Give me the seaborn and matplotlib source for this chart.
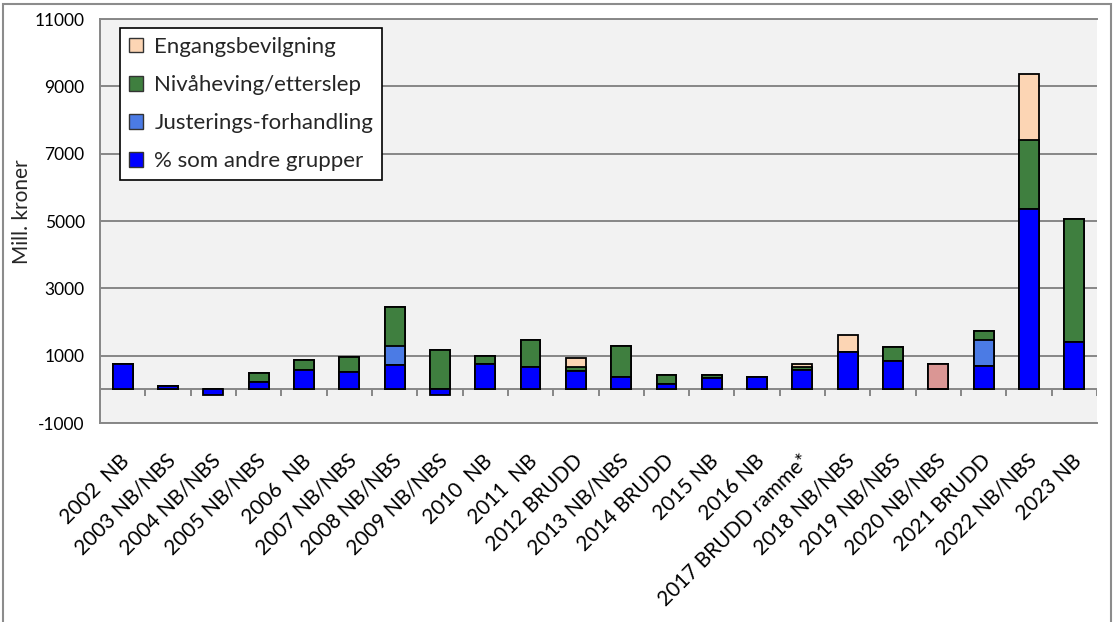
import numpy as np
import pandas as pd
import matplotlib
matplotlib.use("Agg")
import matplotlib.pyplot as plt
from matplotlib.patches import Patch, Rectangle
from matplotlib.transforms import ScaledTranslation
import seaborn as sns

# data (mill. kroner)
categories = ['2002  NB', '2003 NB/NBS', '2004 NB/NBS', '2005 NB/NBS', '2006  NB',
              '2007 NB/NBS', '2008 NB/NBS', '2009 NB/NBS', '2010  NB', '2011  NB',
              '2012 BRUDD', '2013 NB/NBS', '2014 BRUDD', '2015 NB', '2016 NB',
              '2017 BRUDD ramme*', '2018 NB/NBS', '2019 NB/NBS', '2020 NB/NBS',
              '2021 BRUDD', '2022 NB/NBS', '2023 NB']
som_andre = [750, 110, -180, 215, 585, 525, 735, -180, 755, 655, 555, 380, 155,
             330, 370, 575, 1120, 850, 0, 705, 5370, 1395]
annet = [0, 0, 0, 0, 0, 0, 0, 0, 0, 0, 0, 0, 0, 0, 0, 0, 0, 0, 755, 0, 0, 0]
justering = [0, 0, 0, 0, 0, 0, 545, 0, 0, 0, 0, 0, 0, 0, 0, 0, 0, 0, 0, 760, 0, 0]
nivaheving = [0, 0, 0, 275, 290, 445, 1155, 1180, 225, 810, 100, 915, 275, 100,
              0, 90, 0, 400, 0, 275, 2040, 3650]
engangs = [0, 0, 0, 0, 0, 0, 0, 0, 0, 0, 265, 0, 0, 0, 0, 90, 500, 0, 0, 0, 1955, 0]

series_names = ['% som andre grupper', 'Justerings-forhandling',
                'Nivåheving/etterslep', 'Engangsbevilgning']
colors = {'% som andre grupper': '#0000FF', 'annet': '#DA9694',
          'Justerings-forhandling': '#4B7BE5',
          'Nivåheving/etterslep': '#3F7F3F', 'Engangsbevilgning': '#FCD5B4'}

df = pd.DataFrame({'kategori': categories, 'blue': som_andre, 'annet': annet,
                   'just': justering, 'niva': nivaheving, 'eng': engangs})

# cumulative tops for the stacked look (positive parts stack, negative blue hangs below 0)
pos = df['blue'].clip(lower=0)
df['c_annet'] = pos + df['annet']
df['c_just'] = df['c_annet'] + df['just']
df['c_niva'] = df['c_just'] + df['niva']
df['c_eng'] = df['c_niva'] + df['eng']

sns.set_style("white")
plt.rcParams['font.family'] = ['Lato', 'DejaVu Sans']
plt.rcParams['axes.unicode_minus'] = False

fig = plt.figure(figsize=(11.2, 6.22), dpi=100)
ax = fig.add_axes([100 / 1120, 1 - 423 / 622, 997 / 1120, 404 / 622])
ax.set_facecolor('#F2F2F2')

grid_col = '#878787'

# draw from the tallest layer down so each layer covers the one below
layers = [('c_eng', colors['Engangsbevilgning']),
          ('c_niva', colors['Nivåheving/etterslep']),
          ('c_just', colors['Justerings-forhandling']),
          ('c_annet', colors['annet']),
          ('blue', colors['% som andre grupper'])]
for col, c in layers:
    sns.barplot(data=df, x='kategori', y=col, color=c, saturation=1, width=0.44,
                edgecolor='black', linewidth=1.3, errorbar=None, ax=ax, zorder=2)

ax.set_xlim(-0.5, len(categories) - 0.5)
ax.set_ylim(-1000, 11000)
ax.set_yticks(np.arange(-1000, 11001, 2000))
ax.yaxis.grid(True, color=grid_col, linewidth=1.4)
ax.set_axisbelow(True)

# category axis crossing at zero with ticks between the categories
ax.axhline(0, color=grid_col, linewidth=1.4, zorder=1)
ax.vlines(np.arange(-0.5, len(categories)), -190, 0, color=grid_col,
          linewidth=1.4, zorder=1.5)

for side in ['left', 'bottom', 'top']:
    ax.spines[side].set_color(grid_col)
    ax.spines[side].set_linewidth(1.4)
ax.spines['right'].set_visible(False)

ax.tick_params(axis='y', length=5, width=1.4, color=grid_col, pad=6,
               labelsize=12.5, labelcolor='black')
ax.tick_params(axis='x', length=0, pad=25, labelsize=15, labelcolor='black')
ax.set_xticks(range(len(categories)))
ax.set_xticklabels(categories, rotation=45, ha='right', va='center',
                   rotation_mode='anchor')
shift = ScaledTranslation(3 / 72, 0, fig.dpi_scale_trans)
for lbl in ax.get_xticklabels():
    lbl.set_transform(lbl.get_transform() + shift)

ax.set_xlabel('')
ax.set_ylabel('Mill. kroner', fontsize=15)
ax.yaxis.set_label_coords(-0.068, 0.522)

handles = [Patch(facecolor=colors[n], edgecolor='#333333', linewidth=1)
           for n in reversed(series_names)]
leg = ax.legend(handles, list(reversed(series_names)), loc='upper left',
                bbox_to_anchor=(0.02, 0.978), borderaxespad=0, fontsize=16,
                handlelength=0.65, handleheight=0.65, handletextpad=0.5,
                labelspacing=0.82, borderpad=0.4, fancybox=False, framealpha=1)
leg.get_frame().set_edgecolor('black')
leg.get_frame().set_linewidth(1.2)

# outer chart border, cut off at the bottom like the screenshot
fig.add_artist(Rectangle((3 / 1120, -0.05), 1108 / 1120, 1.05 - 4 / 622,
                         transform=fig.transFigure, fill=False,
                         edgecolor='#8C8C8C', linewidth=1.5))

fig.savefig('out.png', dpi=100)
